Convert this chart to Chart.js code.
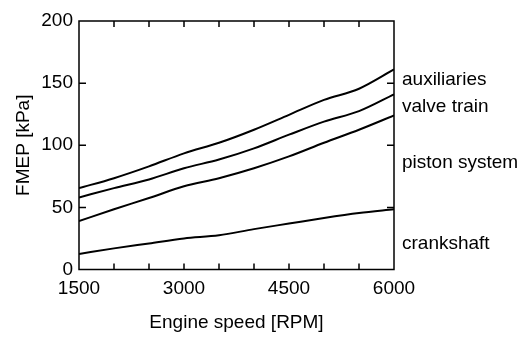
<!DOCTYPE html>
<html>
<head>
<meta charset="utf-8">
<script src="https://cdn.jsdelivr.net/npm/chart.js@4/dist/chart.umd.min.js"></script>
<style>
  body { margin: 0; background: #fff; }
  #wrap { width: 526px; height: 338px; position: relative; }
</style>
</head>
<body>
<div id="wrap"><canvas id="chart"></canvas></div>
<script>
const rpm = [1500, 2000, 2500, 3000, 3500, 4000, 4500, 5000, 5500, 6000];
const auxiliaries = [65.5, 73.5, 83, 93.5, 102, 112.5, 124.5, 136.5, 145.5, 161];
const valveTrain = [58, 65.5, 72.5, 81.5, 88.5, 97.5, 108.5, 119, 127.5, 141];
const pistonSystem = [39, 48.5, 57.5, 67, 73.5, 81.5, 91, 102, 112.5, 124];
const crankshaft = [12.5, 17, 21, 25, 27.5, 32.5, 37, 41.5, 45.5, 48.5];

const seriesNames = ['auxiliaries', 'valve train', 'piston system', 'crankshaft'];
const seriesValues = [auxiliaries, valveTrain, pistonSystem, crankshaft];
const xTickLabels = [1500, 3000, 4500, 6000];
const yTickLabels = [0, 50, 100, 150, 200];

// where the right-hand names sit, in kPa
const nameLevels = [152.5, 131, 86, 20.5];

const FONT = "'Liberation Sans', Arial, sans-serif";

const frame = {
  id: 'frame',
  afterDraw(chart) {
    const { ctx, chartArea: a, scales } = chart;
    ctx.save();
    ctx.strokeStyle = '#000';
    ctx.lineWidth = 1.5;
    ctx.strokeRect(a.left, a.top, a.right - a.left, a.bottom - a.top);

    // inward ticks on all four sides
    ctx.beginPath();
    scales.x.ticks.forEach(t => {
      const px = scales.x.getPixelForValue(t.value);
      if (px <= a.left + 1 || px >= a.right - 1) return;
      ctx.moveTo(px, a.bottom); ctx.lineTo(px, a.bottom - 6);
      ctx.moveTo(px, a.top); ctx.lineTo(px, a.top + 6);
    });
    scales.y.ticks.forEach(t => {
      const py = scales.y.getPixelForValue(t.value);
      if (py <= a.top + 1 || py >= a.bottom - 1) return;
      ctx.moveTo(a.left, py); ctx.lineTo(a.left + 7, py);
      ctx.moveTo(a.right, py); ctx.lineTo(a.right - 7, py);
    });
    ctx.stroke();

    // series names to the right
    ctx.fillStyle = '#000';
    ctx.font = '19px ' + FONT;
    ctx.textAlign = 'left';
    ctx.textBaseline = 'middle';
    seriesNames.forEach((n, i) => {
      ctx.fillText(n, a.right + 8, scales.y.getPixelForValue(nameLevels[i]));
    });
    ctx.restore();
  }
};

const datasets = seriesNames.map((n, i) => ({
  label: n,
  data: rpm.map((r, j) => ({ x: r, y: seriesValues[i][j] })),
  borderColor: '#000',
  borderWidth: 2,
  pointRadius: 0,
  cubicInterpolationMode: 'monotone',
  fill: false
}));

new Chart(document.getElementById('chart').getContext('2d'), {
  type: 'line',
  data: { datasets },
  options: {
    responsive: true,
    maintainAspectRatio: false,
    animation: false,
    layout: { padding: { top: 21, right: 132, bottom: 0, left: 0 } },
    plugins: { legend: { display: false }, tooltip: { enabled: false } },
    scales: {
      x: {
        type: 'linear',
        min: 1500,
        max: 6000,
        afterFit: s => { s.height = 68.5; },
        border: { display: false },
        grid: { display: false, drawTicks: false },
        ticks: {
          stepSize: 500,
          autoSkip: false,
          maxRotation: 0,
          padding: 8,
          color: '#000',
          font: { family: FONT, size: 19 },
          callback: v => xTickLabels.includes(v) ? String(v) : ''
        },
        title: {
          display: true,
          text: 'Engine speed [RPM]',
          color: '#000',
          font: { family: FONT, size: 19 },
          padding: { top: 0, bottom: 4 }
        }
      },
      y: {
        min: 0,
        max: 200,
        afterFit: s => { s.width = 79; },
        border: { display: false },
        grid: { display: false, drawTicks: false },
        ticks: {
          stepSize: 50,
          padding: 6,
          color: '#000',
          font: { family: FONT, size: 19 },
          callback: v => yTickLabels.includes(v) ? String(v) : ''
        },
        title: {
          display: true,
          text: 'FMEP [kPa]',
          color: '#000',
          font: { family: FONT, size: 19 },
          padding: { top: 12, bottom: 0 }
        }
      }
    }
  },
  plugins: [frame]
});
</script>
</body>
</html>
